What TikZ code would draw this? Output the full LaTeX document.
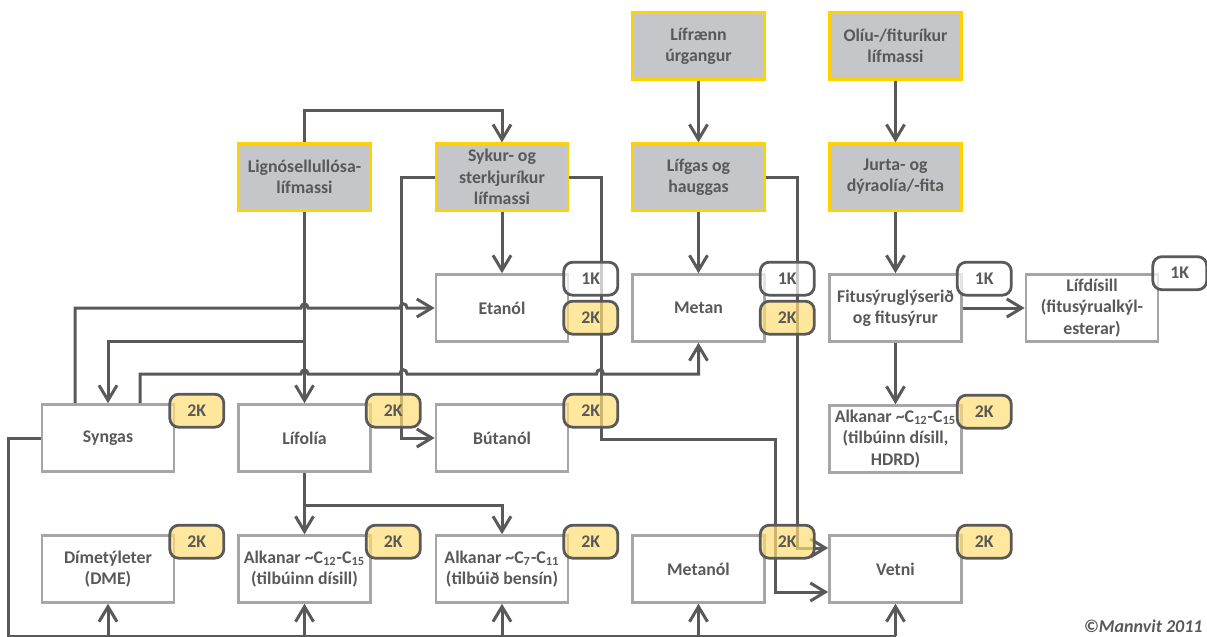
\documentclass[tikz,border=0pt]{standalone}
\usepackage{fontspec}
\setmainfont{Carlito}
\usepackage{tikz}
\usetikzlibrary{arrows.meta}

\definecolor{srcgrey}{RGB}{196,198,201}
\definecolor{srcgold}{RGB}{255,210,0}
\definecolor{boxgrey}{RGB}{166,166,166}
\definecolor{inkgrey}{RGB}{89,89,89}
\definecolor{badgegold}{RGB}{255,222,115}

\begin{document}
\begin{tikzpicture}[x=0.5pt,y=-0.5pt,
        font=\fontsize{8.9pt}{10.6pt}\selectfont\bfseries, text=inkgrey,
        src/.style={draw=srcgold,fill=srcgrey,line width=1.4pt,minimum width=66pt,minimum height=33.25pt,inner sep=1pt,align=center},
        prod/.style={draw=boxgrey,fill=white,line width=1.3pt,minimum width=66pt,minimum height=33.5pt,inner sep=1pt,align=center},
        badge/.style={draw=inkgrey,line width=1.4pt,rounded corners=4.5pt,minimum width=27pt,minimum height=16.5pt,inner sep=0pt,fill opacity=0.7,text opacity=1},
        onek/.style={badge,fill=white},
        twok/.style={badge,fill=badgegold},
        flow/.style={draw=inkgrey,line width=1.5pt},
        arr/.style={flow,-{Straight Barb[length=7.5pt,width=9pt]}}]
        \useasboundingbox (0,0) rectangle (1207,637);
        % hraefni
        \node[src] (lifr) at (698.5,46) {Lífrænn\\úrgangur};
        \node[src] (oliu) at (895.5,46) {Olíu-/fituríkur\\lífmassi};
        \node[src] (lig) at (304.5,177) {Lignósellullósa-\\lífmassi};
        \node[src] (syk) at (502,177) {Sykur- og\\sterkjuríkur\\lífmassi};
        \node[src] (lifg) at (698.5,177) {Lífgas og\\hauggas};
        \node[src] (jurta) at (895.5,177) {Jurta- og\\dýraolía/-fita};
        % afurdir
        \node[prod] (etanol) at (502,308) {Etanól};
        \node[prod] (metan) at (698.5,308) {Metan};
        \node[prod] (fitu) at (895.5,308) {Fitusýruglýserið\\og fitusýrur};
        \node[prod] (lifd) at (1092,308) {Lífdísill\\(fitusýrualkýl-\\esterar)};
        \node[prod] (syngas) at (108,438) {Syngas};
        \node[prod] (lifolia) at (304.5,438) {Lífolía};
        \node[prod] (butanol) at (502,438) {Bútanól};
        \node[prod] (alkhdrd) at (895.5,439) {Alkanar \textasciitilde C\textsubscript{12}-C\textsubscript{15}\\(tilbúinn dísill,\\HDRD)};
        \node[prod] (dme) at (108,569) {Dímetýleter\\(DME)};
        \node[prod] (alkdis) at (304.5,569) {Alkanar \textasciitilde C\textsubscript{12}-C\textsubscript{15}\\(tilbúinn dísill)};
        \node[prod] (alkben) at (502,569) {Alkanar \textasciitilde C\textsubscript{7}-C\textsubscript{11}\\(tilbúið bensín)};
        \node[prod] (metanol) at (698.5,569) {Metanól};
        \node[prod] (vetni) at (895.5,569) {Vetni};
        \coordinate (ligj) at (304.5,341);
        \coordinate (lifj) at (304.5,505);
        \coordinate (bus) at (0,636);
        % tengingar
        \draw[arr] (lifr) -- (lifg);
        \draw[arr] (oliu) -- (jurta);
        \draw[arr] (jurta) -- (fitu);
        \draw[arr] (fitu) -- (lifd);
        \draw[arr] (fitu) -- (alkhdrd);
        \draw[arr] (syk) -- (etanol);
        \draw[arr] (lifg) -- (metan);
        \draw[arr] (lig.north) -- ++(0,-32) -| (syk.north);
        \draw[arr] (lig) -- (lifolia);
        \draw[arr] (ligj) -| (syngas.north);
        \draw[arr] ([xshift=-16.5pt]syngas.north) |- (301,308)
            .. controls (301,302.5) and (308,302.5) .. (308,308) -- (400,308)
            .. controls (400,302.5) and (407,302.5) .. (407,308) -- (etanol.west);
        \draw[arr] ([xshift=16pt]syngas.north) |- (301,374)
            .. controls (301,368.5) and (308,368.5) .. (308,374) -- (400,374)
            .. controls (400,368.5) and (407,368.5) .. (407,374) -- (596.5,374)
            .. controls (596.5,368.5) and (603.5,368.5) .. (603.5,374) -| (metan.south);
        \draw[arr] (syk.west) -- ++(-33,0) |- (butanol.west);
        \draw[arr] (syk.east) -- ++(32,0) |- (775,439) |- ([yshift=-11.5pt]vetni.west);
        \draw[arr] (lifg.east) -- ++(32,0) |- ([yshift=10.5pt]vetni.west);
        \draw[arr] (lifolia) -- (alkdis);
        \draw[arr] (lifj) -| (alkben.north);
        \draw[flow] (syngas.west) -- ++(-32,0) |- (vetni.south |- bus);
        \foreach \n in {dme,alkdis,alkben,metanol,vetni}
            \draw[arr] (\n.south |- bus) -- (\n.south);
        % merki
        \foreach \n in {syngas,lifolia,butanol,alkhdrd,dme,alkdis,alkben,metanol,vetni}
            \node[twok] (b2\n) at ([xshift=10.75pt,yshift=-3.75pt]\n.north east) {2K};
        \foreach \n in {etanol,metan}{
            \node[onek] (b1\n) at ([xshift=10.75pt,yshift=-2.75pt]\n.north east) {1K};
            \node[twok] (b2\n) at ([xshift=10.75pt,yshift=-22.25pt]\n.north east) {2K};
        }
        \node[onek] (b1fitu) at ([xshift=10.75pt,yshift=-2.75pt]fitu.north east) {1K};
        \node[onek] (b1lifd) at ([xshift=10.25pt]lifd.north east) {1K};
        \node[font=\fontsize{9pt}{10pt}\selectfont\bfseries\itshape,anchor=base east,inner sep=0pt] (hofr) at (1203,632) {©Mannvit 2011};
    \end{tikzpicture}
\end{document}
